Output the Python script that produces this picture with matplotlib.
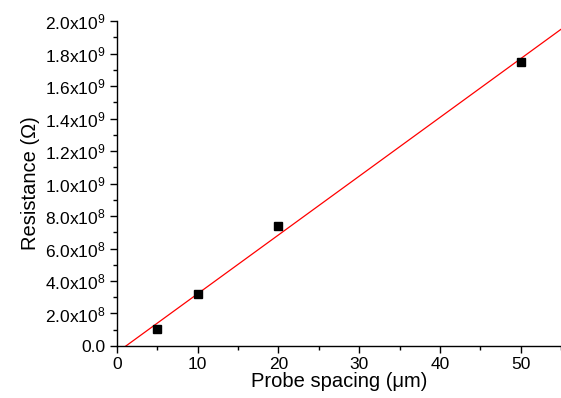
import numpy as np
import matplotlib
matplotlib.use("Agg")
import matplotlib.pyplot as plt
from matplotlib.ticker import FuncFormatter, MultipleLocator

# Data
spacing = [5, 10, 20, 50]                     # probe spacing (um)
resistance = [1.05e8, 3.2e8, 7.4e8, 1.75e9]   # resistance (Ohm)

plt.rcParams['font.family'] = ['Liberation Sans', 'DejaVu Sans']
plt.rcParams['mathtext.fontset'] = 'custom'
plt.rcParams['mathtext.rm'] = 'Liberation Sans'
plt.rcParams['mathtext.default'] = 'regular'

# Linear fit
slope, intercept = np.polyfit(spacing, resistance, 1)
xfit = np.linspace(0, 55, 200)
yfit = slope * xfit + intercept

fig = plt.figure(figsize=(5.61, 3.98), dpi=100)
ax = fig.add_axes([0.2086, 0.1307, 0.7914, 0.8163])

ax.plot(xfit, yfit, color='red', linewidth=0.9)
ax.plot(spacing, resistance, 's', color='black', markersize=6)

ax.set_xlim(0, 55)
ax.set_ylim(0, 2.0e9)

ax.xaxis.set_major_locator(MultipleLocator(10))
ax.xaxis.set_minor_locator(MultipleLocator(5))
ax.yaxis.set_major_locator(MultipleLocator(2e8))
ax.yaxis.set_minor_locator(MultipleLocator(1e8))


def fmt(v, pos):
    if v == 0:
        return "0.0"
    e = int(np.floor(np.log10(abs(v)) + 1e-9))
    m = v / 10 ** e
    return f"{m:.1f}x10$^{{{e}}}$"


ax.yaxis.set_major_formatter(FuncFormatter(fmt))

for s in ['top', 'right']:
    ax.spines[s].set_visible(False)
for s in ['left', 'bottom']:
    ax.spines[s].set_linewidth(1.0)

ax.tick_params(which='major', direction='out', length=5, width=1, labelsize=12.5, pad=3)
ax.tick_params(which='minor', direction='out', length=3, width=1)

ax.set_xlabel('Probe spacing (\u03bcm)', fontsize=14.5, labelpad=0)
ax.set_ylabel('Resistance (\u03a9)', fontsize=14.5, labelpad=4)

fig.savefig('out.png', dpi=100)
